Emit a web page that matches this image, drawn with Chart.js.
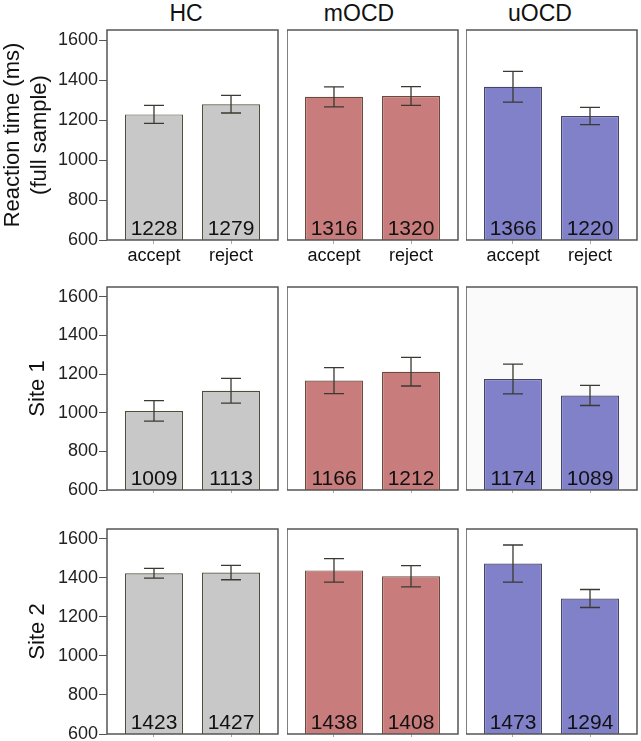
<!DOCTYPE html>
<html>
<head>
<meta charset="utf-8">
<script src="https://cdn.jsdelivr.net/npm/chart.js@4.4.1/dist/chart.umd.min.js"></script>
<style>
  body { margin: 0; background: #fff; }
  #wrap { position: relative; width: 641px; height: 741px; overflow: hidden; font-family: 'Liberation Sans', Arial, sans-serif; }
  #wrap canvas { position: absolute; }
  .head { position: absolute; top: 0; width: 120px; text-align: center; font-size: 23px; line-height: 26px; color: #111; }
</style>
</head>
<body>
<div id="wrap"></div>
<script>
// Data
const groups = ['HC', 'mOCD', 'uOCD'];
const conditions = ['accept', 'reject'];
const rowTitles = [['Reaction time (ms)', '(full sample)'], 'Site 1', 'Site 2'];

// means [group][condition]
const fullMeans  = [[1228, 1279], [1316, 1320], [1366, 1220]];
const site1Means = [[1009, 1113], [1166, 1212], [1174, 1089]];
const site2Means = [[1423, 1427], [1438, 1408], [1473, 1294]];

// error bar half-lengths [group][condition]
const fullErrors  = [[45, 44], [50, 47], [77, 43]];
const site1Errors = [[53, 64], [67, 74], [77, 52]];
const site2Errors = [[25, 37], [60, 54], [95, 46]];

const yTicks = [600, 800, 1000, 1200, 1400, 1600];

const rowMeans = [fullMeans, site1Means, site2Means];
const rowErrors = [fullErrors, site1Errors, site2Errors];

const fills = ['#c8c8c8', '#c97c7c', '#8181c9'];
const edges = ['#4d4d38', '#6b4a3e', '#444466'];

// panel geometry (px)
const panelLeft = [107, 287, 466];
const panelWidth = 171;
const panelTop = [30, 287, 529];
const panelBottom = [240, 490, 734];
const headCenter = [186, 359, 540];

const wrap = document.getElementById('wrap');

groups.forEach((g, c) => {
    const d = document.createElement('div');
    d.className = 'head';
    d.style.left = (headCenter[c] - 60) + 'px';
    d.textContent = g;
    wrap.appendChild(d);
});

const FONT = "'Liberation Sans', Arial, sans-serif";

const panelPlugin = {
    id: 'panel',
    beforeDatasetsDraw(chart, args, opts) {
        const a = chart.chartArea;
        const ctx = chart.ctx;
        ctx.save();
        ctx.fillStyle = opts.bg;
        ctx.fillRect(a.left, a.top, a.right - a.left, a.bottom - a.top);
        ctx.restore();
    },
    afterDatasetsDraw(chart, args, opts) {
        const a = chart.chartArea;
        const ctx = chart.ctx;
        const y = chart.scales.y;
        const meta = chart.getDatasetMeta(0);
        const ds = chart.data.datasets[0];
        ctx.save();
        // error bars
        ctx.strokeStyle = '#3a3a32';
        ctx.lineWidth = 1.3;
        meta.data.forEach((bar, i) => {
            const v = ds.data[i].y;
            const e = opts.errors[i];
            const yt = y.getPixelForValue(v + e);
            const yb = y.getPixelForValue(v - e);
            ctx.beginPath();
            ctx.moveTo(bar.x, yt); ctx.lineTo(bar.x, yb);
            ctx.moveTo(bar.x - 10, yt); ctx.lineTo(bar.x + 10, yt);
            ctx.moveTo(bar.x - 10, yb); ctx.lineTo(bar.x + 10, yb);
            ctx.stroke();
        });
        // value labels at bar foot
        ctx.fillStyle = '#111';
        ctx.font = '21px ' + FONT;
        ctx.textAlign = 'center';
        ctx.textBaseline = 'alphabetic';
        meta.data.forEach((bar, i) => {
            ctx.fillText(String(ds.data[i].y), bar.x, a.bottom - 5);
        });
        // frame
        ctx.strokeStyle = '#555';
        ctx.lineWidth = 1.5;
        ctx.strokeRect(a.left, a.top, a.right - a.left, a.bottom - a.top);
        ctx.restore();
    }
};

for (let r = 0; r < 3; r++) {
    for (let c = 0; c < 3; c++) {
        const left = c === 0 ? 0 : panelLeft[c];
        const top = panelTop[r] - 1;
        const xAxisH = r === 0 ? 30 : 12;
        const width = panelLeft[c] + panelWidth - left + 1;
        const height = panelBottom[r] - top + xAxisH;

        const cv = document.createElement('canvas');
        cv.width = width;
        cv.height = height;
        cv.style.left = left + 'px';
        cv.style.top = top + 'px';
        cv.style.width = width + 'px';
        cv.style.height = height + 'px';
        wrap.appendChild(cv);

        const means = rowMeans[r][c];
        const errs = rowErrors[r][c];

        new Chart(cv, {
            type: 'bar',
            data: {
                datasets: [{
                    data: conditions.map((k, i) => ({ x: i, y: means[i] })),
                    backgroundColor: fills[c],
                    borderColor: edges[c],
                    borderWidth: 1.2,
                    borderSkipped: false,
                    categoryPercentage: 1,
                    barPercentage: 0.753
                }]
            },
            options: {
                responsive: false,
                animation: false,
                devicePixelRatio: 1,
                layout: { autoPadding: false, padding: { top: 1, right: 1, left: 0, bottom: 0 } },
                plugins: {
                    legend: { display: false },
                    tooltip: { enabled: false },
                    panel: { errors: errs, bg: (r === 1 && c === 2) ? '#fafafa' : '#ffffff' }
                },
                scales: {
                    x: {
                        type: 'linear',
                        offset: false,
                        min: -0.61,
                        max: 1.61,
                        afterBuildTicks: s => { s.ticks = conditions.map((k, i) => ({ value: i })); },
                        afterFit: s => {
                            s.height = xAxisH;
                            s.paddingLeft = 0;
                            s.paddingRight = 0;
                        },
                        grid: { offset: false, drawOnChartArea: false, tickLength: r === 0 ? 4 : 3, color: '#aaa' },
                        border: { display: false },
                        ticks: {
                            display: r === 0,
                            padding: 1,
                            maxRotation: 0,
                            autoSkip: false,
                            color: '#111',
                            font: { size: 18, family: FONT },
                            callback: v => conditions[v]
                        }
                    },
                    y: {
                        display: c === 0,
                        min: 600,
                        max: 1650,
                        afterBuildTicks: s => { s.ticks = yTicks.map(v => ({ value: v })); },
                        afterFit: s => {
                            if (c === 0) s.width = panelLeft[0];
                            s.paddingTop = 0;
                            s.paddingBottom = 0;
                        },
                        grid: { drawOnChartArea: false, tickLength: 8, color: '#555' },
                        border: { display: false },
                        ticks: {
                            padding: 1,
                            color: '#222',
                            font: { size: 18, family: FONT },
                            callback: v => String(v)
                        },
                        title: {
                            display: true,
                            text: rowTitles[r],
                            color: '#111',
                            font: { size: 22, family: FONT, lineHeight: 1.2 },
                            padding: { top: r === 0 ? 0 : 25, bottom: 0 }
                        }
                    }
                }
            },
            plugins: [panelPlugin]
        });
    }
}
</script>
</body>
</html>
